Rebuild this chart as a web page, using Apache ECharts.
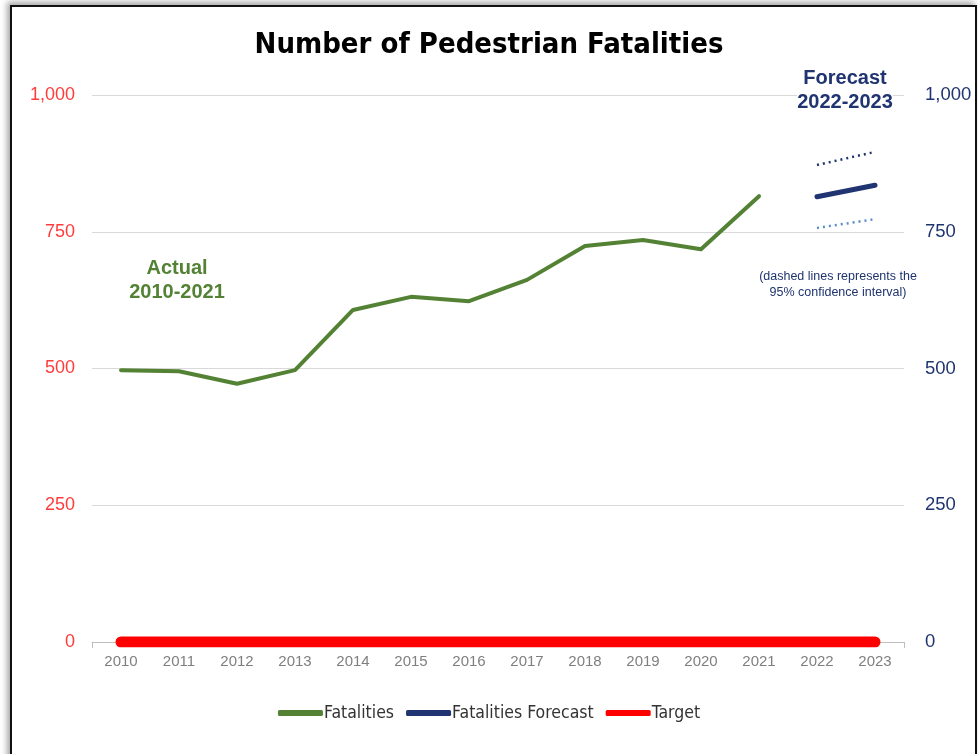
<!DOCTYPE html>
<html><head><meta charset="utf-8">
<script src="https://cdn.jsdelivr.net/npm/echarts@6/dist/echarts.min.js"></script>
<style>
html,body{margin:0;padding:0;background:#fff;width:978px;height:754px;overflow:hidden;}
#frame{position:absolute;left:10px;top:5px;width:963px;height:800px;border:2px solid #111;box-shadow:-3px -3px 6px rgba(0,0,0,0.35);background:#fff;}
#main{position:absolute;left:0;top:0;width:978px;height:754px;}
</style></head>
<body>
<div id="frame"></div>
<div id="main"></div>
<script>
const years = ['2010','2011','2012','2013','2014','2015','2016','2017','2018','2019','2020','2021','2022','2023'];
const fatalities = [497,495,472,497,607,631,623,662,724,735,718,815,null,null];
const forecast = [null,null,null,null,null,null,null,null,null,null,null,null,814,835];
const upperCI = [null,null,null,null,null,null,null,null,null,null,null,null,872,896];
const lowerCI = [null,null,null,null,null,null,null,null,null,null,null,null,757,773];
const target = [0,0,0,0,0,0,0,0,0,0,0,0,0,0];
const yTicks = [0,250,500,750,1000];

const chart = echarts.init(document.getElementById('main'), null, {renderer:'canvas'});
const fmt = v => v.toLocaleString('en-US');
const narrow = "'Liberation Sans Narrow','DejaVu Sans Condensed',Arial,sans-serif";
chart.setOption({
  backgroundColor:'transparent',
  animation:false,
  title:{text:'Number of Pedestrian Fatalities',left:'center',top:26,
    textStyle:{fontFamily:narrow,fontWeight:'bold',fontSize:29,color:'#000'}},
  grid:{left:92,right:74,top:95,bottom:112,containLabel:false},
  legend:{bottom:27,left:'center',data:['Fatalities','Fatalities Forecast','Target'],
    itemWidth:45,itemHeight:6,itemGap:12,icon:'roundRect',
    textStyle:{fontFamily:narrow,fontSize:17.5,color:'#333',padding:[0,0,0,-4]}},
  xAxis:{type:'category',data:years,boundaryGap:true,
    axisLine:{lineStyle:{color:'#bfbfbf',width:1}},
    axisTick:{show:true,interval:(i)=>i===12,length:6,lineStyle:{color:'#bfbfbf'}},
    axisLabel:{color:'#7f7f7f',fontSize:15,fontFamily:'Liberation Sans, Arial, sans-serif',margin:12}},
  yAxis:[
    {type:'value',min:0,max:1000,interval:250,position:'left',
     axisLine:{show:false},axisTick:{show:false},
     splitLine:{lineStyle:{color:'#d9d9d9',width:1}},
     axisLabel:{color:'#ff3b3b',fontSize:18,fontFamily:'Liberation Sans, Arial, sans-serif',formatter:fmt,margin:17}},
    {type:'value',min:0,max:1000,interval:250,position:'right',
     axisLine:{show:false},axisTick:{show:false},splitLine:{show:false},
     axisLabel:{color:'#1f3470',fontSize:18.5,fontFamily:'Liberation Sans, Arial, sans-serif',formatter:fmt,margin:21}}
  ],
  series:[
    {name:'Target',type:'line',data:target,symbol:'none',z:3,
     itemStyle:{color:'#ff0000'},lineStyle:{color:'#ff0000',width:11,cap:'round'}},
    {name:'Fatalities',type:'line',data:fatalities,symbol:'none',z:4,
     itemStyle:{color:'#548235'},lineStyle:{color:'#548235',width:4,cap:'round',join:'round'}},
    {name:'Fatalities Forecast',type:'line',data:forecast,symbol:'none',z:4,
     itemStyle:{color:'#1f3470'},lineStyle:{color:'#1f3470',width:5,cap:'round'}},
    {name:'Upper CI',type:'line',data:upperCI,symbol:'none',z:4,
     lineStyle:{color:'#1f3470',width:2.5,type:[2,4]}},
    {name:'Lower CI',type:'line',data:lowerCI,symbol:'none',z:4,
     lineStyle:{color:'#5b8ec9',width:2.5,type:[2,4]}}
  ],
  graphic:[
    {type:'text',x:177,y:256,z:10,style:{text:'Actual\n2010-2021',align:'center',
      font:'bold 20px "Liberation Sans", Arial, sans-serif',fill:'#548235',lineHeight:24}},
    {type:'text',x:845,y:66,z:10,style:{text:'Forecast\n2022-2023',align:'center',
      font:'bold 20px "Liberation Sans", Arial, sans-serif',fill:'#1f3470',lineHeight:24,
      backgroundColor:'#fff'}},
    {type:'text',x:838,y:269,z:10,style:{text:'(dashed lines represents the\n95% confidence interval)',align:'center',
      font:'12.5px "Liberation Sans", Arial, sans-serif',fill:'#1f3470',lineHeight:16}}
  ]
});
</script>
</body></html>
